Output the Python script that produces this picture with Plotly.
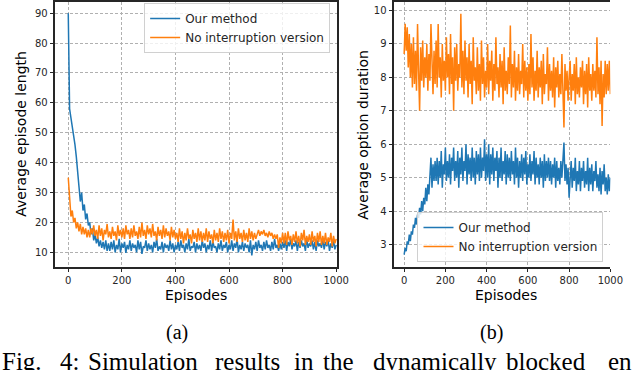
import plotly.graph_objects as go

# Data (one value every 5 episodes)
lengthOurs = [
    90, 58, 55, 52, 50, 46, 42, 38, 32, 27, 30, 24, 26, 21, 23, 19, 20, 16, 18, 14, 16, 13, 15, 12, 14, 11.5, 13.5, 11, 14, 10.5, 13,
    10.5, 13.5, 11, 14, 10, 12.5, 11, 14.5, 10, 13, 11.5, 13.5, 9.8, 12.5, 11, 14, 10.5, 13, 11.5, 12.5,
    10, 14, 11, 13.5, 9.5, 12, 11.5, 14, 10.5, 13, 11, 12.5, 10, 13.5, 11.5, 14.5, 10.5, 12, 11, 13.5,
    10, 13, 11.5, 12.5, 10.5, 14, 11, 13, 10, 12.5,
    11, 13.5, 10.5, 14, 11.5, 12.5, 10, 13, 11, 14.5, 10.5, 12, 11.5, 13.5, 10, 13, 11, 12.5, 10.5, 14,
    11.5, 13, 10, 12.5, 11, 14, 10.5, 13.5, 11.5, 12, 10, 13, 11, 14, 10.5, 12.5, 11.5, 13.5, 10, 12.5,
    11, 14, 10.5, 13, 11.5, 14.5, 10, 12.5, 11, 13.5, 10.5, 13, 11.5, 12.5, 10, 14, 9, 12.5, 11, 13.5,
    10.5, 14, 11.5, 12.5, 10.5, 13.5, 11, 14, 11.5, 12.5, 10.5, 13.5, 11, 14.5, 11.5, 12.5, 10.5, 13, 11, 13.5,
    11.5, 14, 10.5, 13.5, 12, 14.5, 11, 13, 12, 14, 10.5, 13.5, 11.5, 14, 12, 13, 10.5, 14.5, 11.5, 13,
    12, 14, 11, 13.5, 10.5, 14, 12, 13, 11.5, 14.5, 11, 13.5, 12, 14, 10.5, 13, 11.5, 14, 11, 12.5,
]
lengthNoInt = [
    35, 26, 22, 24, 20, 21.5, 18, 20, 17, 19.5, 16, 18.5, 16, 18, 15, 17.5, 15, 18, 16, 19, 15.5,
    17.5, 14.5, 19, 15.5, 18, 14, 17.5, 16, 19.5, 15, 17, 14.5, 18.5, 15.5, 17, 14, 19, 15.5, 17.5, 15,
    18, 14.5, 19, 16, 17.5, 14.5, 18, 15, 19, 15.5, 17, 14.5, 18.5, 15, 20, 15.5, 17.5, 14.5, 19, 16,
    18, 15, 19.5, 15.5, 17, 14, 18.5, 15.5, 17.5, 14.5, 19, 15, 18, 15.5, 17, 14, 18.5, 15, 17.5, 14.5,
    16.5, 13.5, 18, 14.5, 17, 13, 16.5, 14, 18, 14.5, 16, 13, 17.5, 14.5, 16.5, 13.5, 18, 14, 17, 13.5,
    16.5, 14, 18, 13.5, 17, 14.5, 16, 13, 17.5, 14, 16.5, 13.5, 18, 14.5, 17, 13.5, 16.5, 14, 17.5, 13,
    16.5, 14.5, 21, 14, 17, 13.5, 18, 14.5, 16.5, 13.5, 17.5, 14, 16.5, 13.5, 18, 14.5, 17, 14, 16.5, 14.5,
    16, 17.5, 15.5, 17, 16, 17.5, 15.5, 16.5, 15, 17, 15.5, 16.5, 14.5, 16, 14.5, 16, 11.5, 15, 13, 16.5,
    13, 16.5, 12.5, 17, 14, 15.5, 12.5, 16, 13.5, 17, 13, 15.5, 12, 16.5, 14, 17.5, 12.5, 15.5, 13.5, 16,
    12.5, 17, 13.5, 15.5, 12, 16.5, 13.5, 17, 12.5, 15.5, 13, 16.5, 12.5, 15, 13.5, 16.5, 12, 15.5, 13, 14.5,
]
durationOurs = [
    2.7, 2.9, 2.8, 3.1, 3.0, 3.3, 3.1, 3.4, 3.3, 3.6, 3.5, 3.8, 3.6, 3.9, 3.8, 4.1, 3.9, 4.3, 4.0, 4.4,
    4.2, 4.7, 4.3, 4.8, 4.5, 5.0, 5.6, 4.7, 5.4, 4.9, 5.5,
    4.9, 5.6, 4.8, 5.5, 5.0, 5.8, 4.7, 5.4, 5.1, 5.9, 4.9, 5.5, 5.0, 5.7, 4.8, 5.6, 5.2, 5.9, 4.9, 5.5,
    5.0, 5.8, 4.7, 5.6, 5.1, 5.9, 4.9, 5.5, 5.2, 6.0, 4.8, 5.7, 5.1, 5.6, 4.9, 5.9, 5.0, 5.6, 4.8, 5.8,
    5.1, 5.7, 4.9, 5.9, 5.0, 5.6, 5.2, 6.15, 4.9, 5.7,
    5.0, 6.0, 4.8, 5.7, 5.1, 5.9, 4.9, 5.6, 5.2, 5.8, 4.7, 5.6, 5.0, 5.9, 4.9, 5.5, 5.1, 5.8, 4.8, 5.7,
    5.0, 5.6, 4.9, 5.8, 5.1, 5.5, 4.8, 5.9, 5.0, 5.6, 4.7, 5.5, 5.0, 5.7, 4.9, 5.6, 5.1, 5.8, 4.8, 5.4,
    5.0, 5.7, 4.9, 5.5, 5.1, 5.8, 4.8, 5.6, 5.0, 5.4, 4.8, 5.6, 5.0, 5.5, 4.7, 5.7, 4.9, 5.5, 5.0, 5.6,
    4.9, 5.5, 4.8, 5.4, 5.0, 5.6, 4.7, 5.5, 4.9, 5.3, 4.8, 5.5, 5.0, 5.7, 6.05, 4.9, 5.4, 4.8, 5.3, 4.4,
    5.0, 5.5, 4.7, 5.3, 4.9, 5.6, 4.6, 5.2, 4.8, 5.5, 4.6, 5.3, 4.9, 5.5, 4.7, 5.2, 4.8, 5.6, 4.6, 5.3,
    4.8, 5.4, 4.6, 5.2, 4.9, 5.5, 4.7, 5.1, 4.6, 5.3, 4.5, 5.2, 4.8, 5.4, 4.6, 5.0, 4.5, 5.1, 4.6, 5.0,
]
durationNoInt = [
    8.7, 9.6, 8.8, 9.5, 8.3, 9.3, 8.0, 9.0, 7.7, 9.2, 7.8, 8.8, 7.6, 9.6, 8.2, 7.0, 8.9, 7.9, 9.1, 7.7, 8.6,
    8.0, 9.0, 7.6, 8.7, 7.9, 9.6, 8.1, 7.5, 8.8, 7.8, 9.1, 7.7, 9.6, 8.0, 8.6, 7.4, 9.0, 7.9, 8.5, 7.6,
    9.2, 8.0, 8.7, 7.5, 9.3, 7.8, 8.6, 7.0, 8.9, 7.9, 9.0, 7.6, 8.4, 8.0, 9.9, 7.7, 8.8, 7.5, 9.1, 7.9,
    8.6, 7.4, 9.0, 7.8, 8.5, 7.2, 9.2, 7.9, 8.3, 7.5, 8.9, 7.6, 8.4, 7.3, 9.1, 7.8, 8.6, 7.4, 8.2, 7.7,
    9.0, 7.5, 8.5, 7.9, 8.8, 7.3, 8.4, 7.6, 9.2, 7.8, 8.3, 7.4, 8.7, 7.7, 8.5, 7.2, 8.9, 7.6, 8.2, 7.5,
    8.6, 7.8, 9.55, 7.4, 8.4, 7.7, 8.8, 7.3, 8.3, 7.6, 8.7, 7.5, 8.2, 7.8, 9.0, 7.4, 8.5, 7.6, 8.3, 7.3,
    8.4, 7.5, 9.3, 7.7, 8.6, 7.3, 8.2, 7.6, 8.8, 7.4, 8.3, 7.7, 8.5, 7.2, 8.7, 7.5, 8.1, 7.8, 8.9, 7.3,
    8.4, 7.6, 8.2, 7.4, 8.6, 7.1, 8.3, 7.7, 8.5, 7.4, 8.1, 7.5, 8.7, 7.2, 6.5, 8.4, 7.6, 8.2, 7.3, 8.0,
    8.5, 7.3, 8.1, 7.6, 8.4, 7.2, 8.6, 7.5, 8.0, 7.4, 8.3, 7.7, 8.5, 7.2, 8.2, 7.5, 8.4, 7.1, 8.6, 7.6,
    8.1, 7.3, 8.4, 7.6, 8.2, 7.4, 9.2, 7.5, 8.3, 7.2, 8.5, 6.55, 8.1, 7.4, 8.5, 7.5, 8.4, 7.6, 8.5, 7.5,
]
xTicks = [0, 200, 400, 600, 800, 1000]
lengthTicks = [10, 20, 30, 40, 50, 60, 70, 80, 90]
durationTicks = [3, 4, 5, 6, 7, 8, 9, 10]

def Episodes(values):
    return [5 * i for i in range(len(values))]

BLUE, ORANGE = '#1f77b4', '#ff7f0e'
W, H = 640, 370

fig = go.Figure()
fig.add_trace(go.Scatter(x=Episodes(lengthOurs), y=lengthOurs, name='Our method', mode='lines',
                         line=dict(color=BLUE, width=1.5), xaxis='x', yaxis='y', legend='legend'))
fig.add_trace(go.Scatter(x=Episodes(lengthNoInt), y=lengthNoInt, name='No interruption version', mode='lines',
                         line=dict(color=ORANGE, width=1.5), xaxis='x', yaxis='y', legend='legend'))
fig.add_trace(go.Scatter(x=Episodes(durationOurs), y=durationOurs, name='Our method', mode='lines',
                         line=dict(color=BLUE, width=1.5), xaxis='x2', yaxis='y2', legend='legend2'))
fig.add_trace(go.Scatter(x=Episodes(durationNoInt), y=durationNoInt, name='No interruption version', mode='lines',
                         line=dict(color=ORANGE, width=1.5), xaxis='x2', yaxis='y2', legend='legend2'))

tickFont = dict(family='DejaVu Sans', size=10, color='#262626')
axisCommon = dict(showline=True, linecolor='#262626', linewidth=1.5, ticks='outside', ticklen=3.5,
                  tickcolor='#262626', tickwidth=1, tickfont=tickFont, showgrid=True,
                  gridcolor='#b0b0b0', gridwidth=0.8, griddash='3px,2px', zeroline=False)

yTop, yBot = 1 - 1.5 / H, 1 - 267 / H
fig.update_layout(
    width=W, height=H, margin=dict(l=0, r=0, t=0, b=0),
    paper_bgcolor='white', plot_bgcolor='white',
    xaxis=dict(domain=[56 / W, 344 / W], range=[-50, 1003], tickvals=xTicks, anchor='y', mirror=True, **axisCommon),
    yaxis=dict(domain=[yBot, yTop], range=[5.1, 93.9], tickvals=lengthTicks, anchor='x', mirror=True, **axisCommon),
    xaxis2=dict(domain=[402 / W, 623 / W], range=[-50, 1000], tickvals=xTicks, anchor='y2', mirror=True, **axisCommon),
    yaxis2=dict(domain=[yBot, yTop], range=[2.33, 10.27], tickvals=durationTicks, anchor='x2', **axisCommon),
    legend=dict(x=337 / W, y=1 - 3 / H, xanchor='right', yanchor='top', bgcolor='rgba(255,255,255,0.8)',
                bordercolor='#d0d0d0', borderwidth=1, font=dict(family='DejaVu Sans', size=12, color='#262626'),
                itemwidth=30, tracegroupgap=0),
    legend2=dict(x=616 / W, y=1 - 262 / H, xanchor='right', yanchor='bottom', bgcolor='rgba(255,255,255,0.8)',
                 bordercolor='#d0d0d0', borderwidth=1, font=dict(family='DejaVu Sans', size=12, color='#262626'),
                 itemwidth=30, tracegroupgap=0),
    showlegend=True,
)

titleFont = dict(family='DejaVu Sans', size=14, color='black')
yMid = (yTop + yBot) / 2
annotations = [
    dict(text='Average episode length', x=22 / W, y=yMid, textangle=-90, font=titleFont),
    dict(text='Average option duration', x=371 / W, y=yMid, textangle=-90, font=titleFont),
    dict(text='Episodes', x=200 / W, y=1 - 295 / H, font=titleFont),
    dict(text='Episodes', x=517 / W, y=1 - 295 / H, font=titleFont),
    dict(text='(a)', x=181 / W, y=1 - 332 / H, font=dict(family='Liberation Serif', size=20, color='black')),
    dict(text='(b)', x=502 / W, y=1 - 332 / H, font=dict(family='Liberation Serif', size=20, color='black')),
]
for a in annotations:
    a.update(xref='paper', yref='paper', showarrow=False, xanchor='center', yanchor='middle')

# justified caption, cut off by the bottom of the image
captionWords = ['Fig.', '4:', 'Simulation', 'results', 'in', 'the', 'dynamically', 'blocked', 'en']
captionX = [0, 59, 88, 217, 298, 328, 379, 514, 619]
for word, px in zip(captionWords, captionX):
    annotations.append(dict(text=word, x=px / W, y=1 - 346 / H, xref='paper', yref='paper', showarrow=False,
                            xanchor='left', yanchor='top', font=dict(family='Liberation Serif', size=25, color='black')))

fig.update_layout(annotations=annotations)

# drop the page's default body margin so the figure sits at the window corner
fig.write_html('out.html', config={'displayModeBar': False}, post_script="document.body.style.margin='0';")
